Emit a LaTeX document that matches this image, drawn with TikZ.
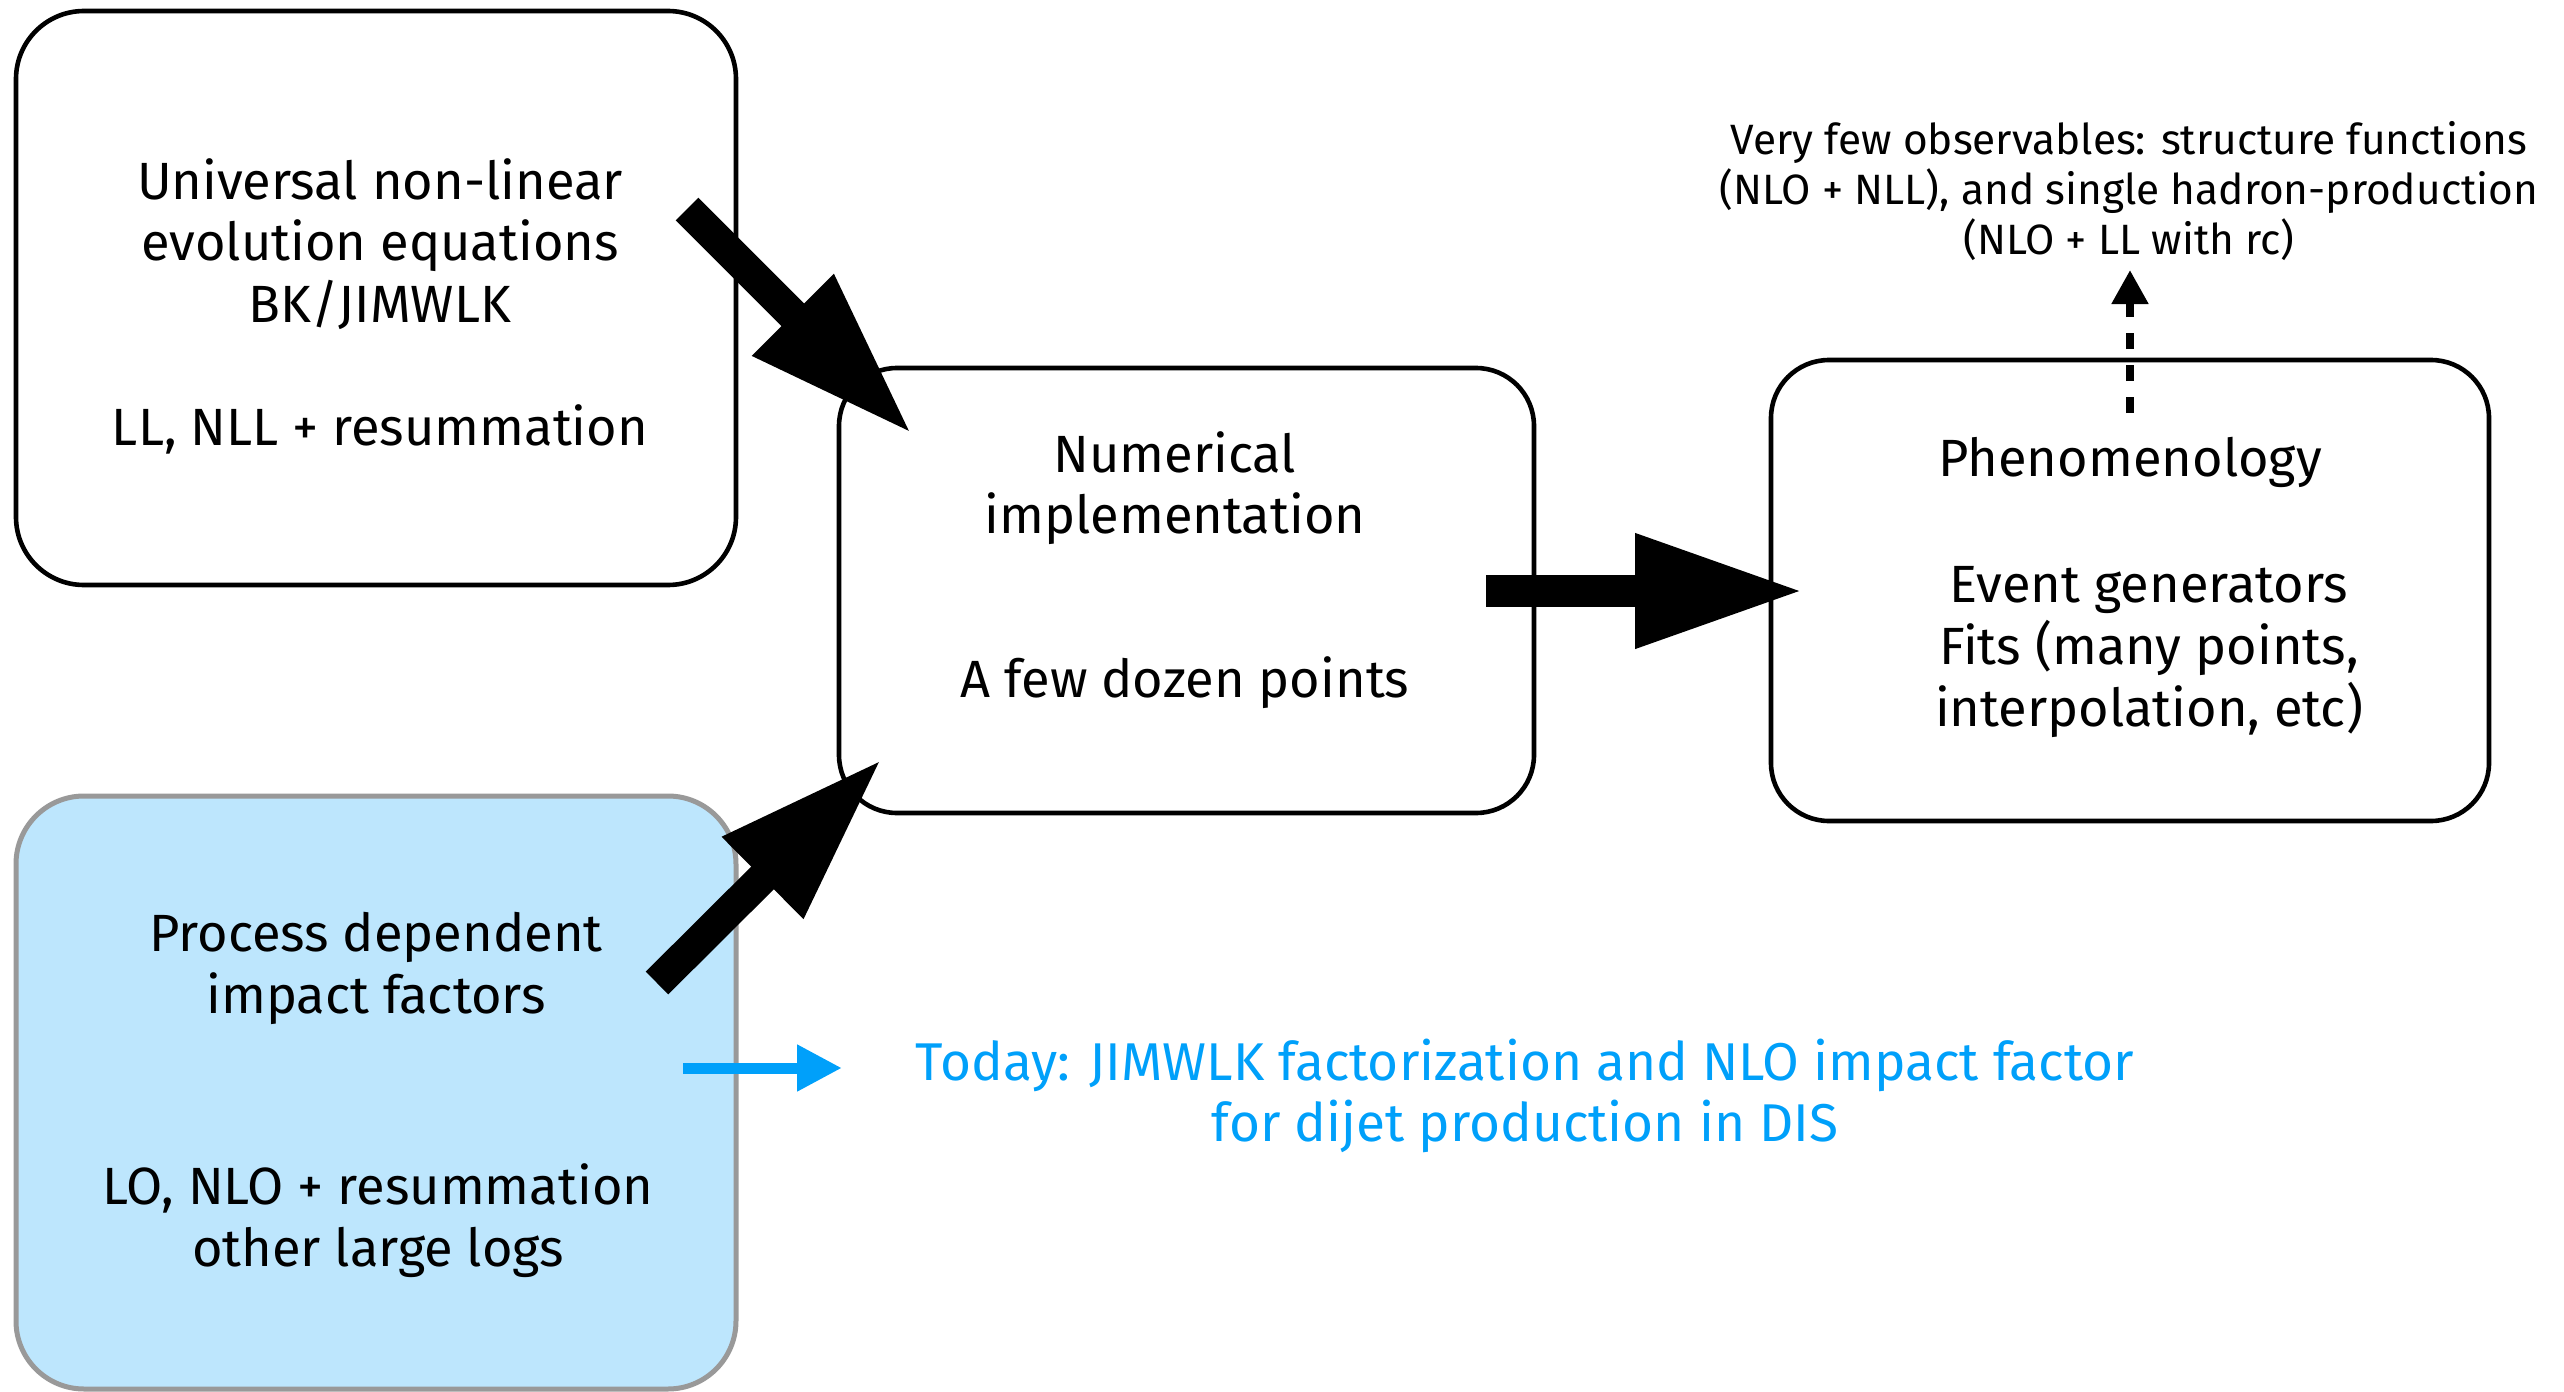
\documentclass[tikz,border=0pt]{standalone}
\usepackage{fontspec}
\setmainfont{Fira Sans}
\usetikzlibrary{arrows.meta}
\definecolor{boxblue}{RGB}{189,230,253}
\definecolor{boxgray}{RGB}{153,153,153}
\definecolor{todayblue}{RGB}{0,160,250}
\begin{document}
\begin{tikzpicture}[x=0.25pt,y=-0.25pt,
  bigbox/.style={draw=black,line width=1.15pt,rounded corners=17pt,inner sep=0pt,outer sep=0pt},
  midbox/.style={draw=black,line width=1.15pt,rounded corners=14.5pt,inner sep=0pt,outer sep=0pt},
  bluebox/.style={draw=boxgray,fill=boxblue,line width=1.25pt,rounded corners=17pt,inner sep=0pt,outer sep=0pt},
  txt/.style={align=center,inner sep=0pt,font=\fontsize{13.1}{15.4}\selectfont},
  smalltxt/.style={align=center,inner sep=0pt,font=\fontsize{10.6}{12.6}\selectfont},
  fatarrow/.style={line width=8pt,-{Triangle[length=42.5pt,width=26.5pt]}},
  dasharrow/.style={line width=2pt,dash pattern=on 4pt off 4pt,-{Triangle[length=8.5pt,width=8.75pt]}},
  bluearrow/.style={todayblue,line width=2.75pt,-{Triangle[length=11.25pt,width=11pt]}}]
\useasboundingbox (0,0) rectangle (2564,1392);
% boxes
\node[bigbox,minimum width=180pt,minimum height=143.5pt] (b1) at (376,298) {};
\node[midbox,minimum width=173.75pt,minimum height=111.25pt] (b2) at (1186.5,590.5) {};
\node[midbox,minimum width=179.5pt,minimum height=115.25pt] (b3) at (2130,590.5) {};
\node[bluebox,minimum width=180pt,minimum height=148.25pt] (b4) at (376,1092.5) {};
% texts
\node[txt] (t1) at (380,306.5) {Universal non-linear\\evolution equations\\BK/JIMWLK\\[15.4pt]LL, NLL + resummation};
\node[txt] (t2a) at (1175,488) {Numerical\\implementation};
\node[txt] (t2b) at (1185,683) {A few dozen points};
\node[txt] (t3a) at (2130,462) {Phenomenology};
\node[txt] (t3b) at (2149,652) {Event generators\\Fits (many points,\\interpolation, etc)};
\node[txt] (t4a) at (376,968.5) {Process dependent\\impact factors};
\node[txt] (t4b) at (378,1220.5) {LO, NLO + resummation\\other large logs};
\node[smalltxt] (obs) at (2129,191) {Very few observables: structure functions\\(NLO + NLL), and single hadron-production\\(NLO + LL with rc)};
\node[txt,text=todayblue,font=\fontsize{13.3}{15.4}\selectfont] (today) at (1525,1096) {Today: JIMWLK factorization and NLO impact factor\\for dijet production in DIS};
% arrow end points
\coordinate (a1s) at (687,209);
\coordinate (a1e) at (913,435);
\coordinate (a2s) at (657,983);
\coordinate (a2e) at (883,758);
\coordinate (a3s) at (1486,591);
\coordinate (a3e) at (1805,591);
\coordinate (a4s) at (2130,413);
\coordinate (a4e) at (2130,270);
\coordinate (a5s) at (683,1068);
\coordinate (a5e) at (842,1068);
% arrows
\draw[fatarrow] (a1s) -- (a1e);
\draw[fatarrow] (a2s) -- (a2e);
\draw[fatarrow] (a3s) -- (a3e);
\draw[dasharrow] (a4s) -- (a4e);
\draw[bluearrow] (a5s) -- (a5e);
\end{tikzpicture}
\end{document}
